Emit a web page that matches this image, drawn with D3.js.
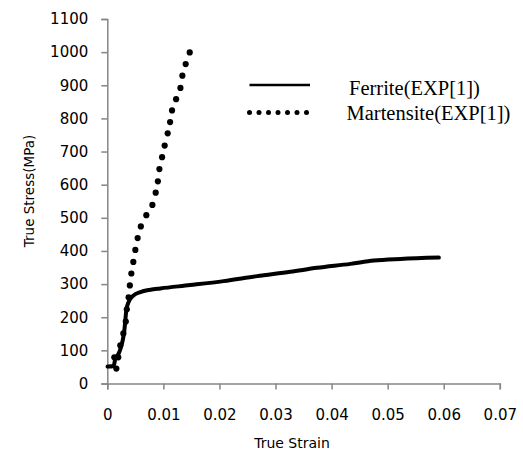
<!DOCTYPE html>
<html>
<head>
<meta charset="utf-8">
<script src="https://cdn.jsdelivr.net/npm/d3@7"></script>
<style>
    body { margin: 0; background: #fff; }
    svg { display: block; }
</style>
</head>
<body>
<script>
(function() {

    // series names
    var seriesNames = ["Ferrite(EXP[1])", "Martensite(EXP[1])"];

    // ferrite curve (strain, stress MPa)
    var ferriteStrain = [0.00005, 0.00113, 0.00143, 0.00202, 0.00245, 0.00280, 0.00304, 0.00321, 0.00339, 0.00380, 0.00470, 0.00589, 0.00768, 0.00946, 0.01479, 0.02074, 0.02670, 0.03265, 0.03741, 0.04337, 0.04753, 0.05229, 0.05913];
    var ferriteStress = [51, 53, 75, 90, 110, 135, 160, 190, 221, 246, 266, 276, 283, 287, 297, 309, 324, 337, 349, 361, 371, 376, 380];

    // martensite dots (strain, stress MPa)
    var martStrain = [0.00161, 0.00125, 0.00196, 0.00232, 0.00286, 0.00330, 0.00348, 0.00380, 0.00402, 0.00429, 0.00464, 0.00500, 0.00541, 0.00598, 0.00696, 0.00804, 0.00863, 0.00902, 0.00929, 0.00977, 0.01023, 0.01077, 0.01120, 0.01155, 0.01227, 0.01304, 0.01339, 0.01398, 0.01470];
    var martStress = [45, 79, 79, 115, 151, 187, 224, 260, 296, 332, 367, 403, 439, 474, 508, 539, 576, 610, 647, 683, 718, 755, 789, 824, 858, 892, 929, 964, 999];

    // axis ticks
    var xTicks = [0, 0.01, 0.02, 0.03, 0.04, 0.05, 0.06, 0.07];
    var yTicks = [0, 100, 200, 300, 400, 500, 600, 700, 800, 900, 1000, 1100];

    var width = 523,
        height = 455,
        axisColor = "#868686";

    var svg = d3.select("body")
        .append("svg")
        .attr("width", width)
        .attr("height", height);

    var xScale = d3.scaleLinear()
        .domain([0, 0.07])
        .range([107.3, 499.8]);

    var yScale = d3.scaleLinear()
        .domain([0, 1100])
        .range([383.5, 19]);

    // y axis
    var yAxis = svg.append("g")
        .attr("transform", "translate(" + xScale(0) + ",0)")
        .call(d3.axisLeft(yScale).tickValues(yTicks).tickSize(6).tickSizeOuter(6).tickPadding(13).tickFormat(d3.format("d")));

    // x axis
    var xAxis = svg.append("g")
        .attr("transform", "translate(0," + yScale(0) + ")")
        .call(d3.axisBottom(xScale).tickValues(xTicks).tickSize(6).tickSizeOuter(6).tickPadding(20).tickFormat(function(d) { return d === 0 ? "0" : d3.format(".2f")(d); }));

    [xAxis, yAxis].forEach(function(ax) {
        ax.selectAll("path, line")
            .attr("stroke", axisColor)
            .attr("stroke-width", 1.5);
        ax.selectAll("text")
            .attr("fill", "#000")
            .style("font-family", "'DejaVu Sans', sans-serif")
            .style("font-size", "15px");
    });

    // ferrite line
    var ferriteData = ferriteStrain.map(function(d, i) { return [d, ferriteStress[i]]; });

    var line = d3.line()
        .x(function(d) { return xScale(d[0]); })
        .y(function(d) { return yScale(d[1]); })
        .curve(d3.curveMonotoneX);

    svg.append("path")
        .datum(ferriteData)
        .attr("d", line)
        .attr("fill", "none")
        .attr("stroke", "#000")
        .attr("stroke-width", 4)
        .attr("stroke-linecap", "round")
        .attr("stroke-linejoin", "round");

    // martensite dots
    var martData = martStrain.map(function(d, i) { return [d, martStress[i]]; });

    svg.selectAll(".mart")
        .data(martData)
        .enter()
        .append("circle")
        .attr("class", "mart")
        .attr("cx", function(d) { return xScale(d[0]); })
        .attr("cy", function(d) { return yScale(d[1]); })
        .attr("r", 3.1)
        .attr("fill", "#000");

    // axis titles
    svg.append("text")
        .attr("x", 292)
        .attr("y", 448)
        .attr("text-anchor", "middle")
        .style("font-family", "'DejaVu Sans', sans-serif")
        .style("font-size", "14px")
        .text("True Strain");

    svg.append("text")
        .attr("transform", "translate(34,191) rotate(-90)")
        .attr("text-anchor", "middle")
        .style("font-family", "'DejaVu Sans', sans-serif")
        .style("font-size", "13.5px")
        .text("True Stress(MPa)");

    // legend
    var legend = svg.append("g");

    legend.append("line")
        .attr("x1", 249.5)
        .attr("x2", 310)
        .attr("y1", 85)
        .attr("y2", 85)
        .attr("stroke", "#000")
        .attr("stroke-width", 2.7);

    legend.selectAll(".ldot")
        .data(d3.range(7))
        .enter()
        .append("circle")
        .attr("class", "ldot")
        .attr("cx", function(d) { return 249.5 + d * 9.5; })
        .attr("cy", 112.5)
        .attr("r", 2.5)
        .attr("fill", "#000");

    legend.selectAll(".ltext")
        .data(seriesNames)
        .enter()
        .append("text")
        .attr("class", "ltext")
        .attr("x", function(d, i) { return i === 0 ? 349 : 346.5; })
        .attr("y", function(d, i) { return i === 0 ? 94.5 : 119.5; })
        .style("font-family", "'Liberation Serif', serif")
        .style("font-size", "20.5px")
        .text(function(d) { return d; });

})();
</script>
</body>
</html>
